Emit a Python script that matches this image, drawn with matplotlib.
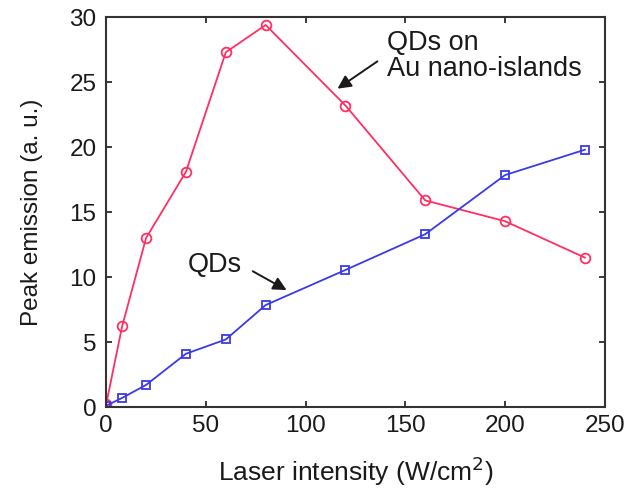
import matplotlib
matplotlib.use("Agg")
import matplotlib.pyplot as plt

plt.rcParams['font.family'] = ['Liberation Sans', 'DejaVu Sans']

intensity = [0, 8, 20, 40, 60, 80, 120, 160, 200, 240]
qds_au = [0.2, 6.2, 13.0, 18.1, 27.3, 29.4, 23.2, 15.9, 14.3, 11.5]
qds = [0.1, 0.7, 1.7, 4.1, 5.2, 7.85, 10.55, 13.3, 17.85, 19.8]

xticks = [0, 50, 100, 150, 200, 250]
yticks = [0, 5, 10, 15, 20, 25, 30]

fig = plt.figure(figsize=(6.28, 4.91), dpi=100)
ax = fig.add_axes([0.169, 0.171, 0.794, 0.794])

ax.plot(intensity, qds_au, color='#ff2f62', lw=1.3, marker='o', ms=7,
        mfc='none', mec='#ff2f62', mew=1.3)
ax.plot(intensity, qds, color='#3a3ae8', lw=1.3, marker='s', ms=6,
        mfc='none', mec='#3a3ae8', mew=1.3)

ax.set_xlim(0, 250)
ax.set_ylim(0, 30)
ax.set_xticks(xticks)
ax.set_yticks(yticks)
ax.tick_params(direction='in', top=True, right=True, length=4, width=1.2,
               labelsize=17.5, colors='#1a1a1a')
ax.tick_params(axis='y', pad=7)
ax.tick_params(axis='x', pad=6)
for s in ax.spines.values():
    s.set_linewidth(1.5)
    s.set_color('#333333')

ax.set_xlabel('Laser intensity (W/cm$^2$)', fontsize=19, color='#1a1a1a', labelpad=12)
ax.set_ylabel('Peak emission (a. u.)', fontsize=17.5, color='#1a1a1a', labelpad=19)

arrow = dict(arrowstyle='-|>', color='#1a1a1a', lw=1.4,
             mutation_scale=20, shrinkA=0, shrinkB=0)

ax.text(141, 27.0, 'QDs on\nAu nano-islands', fontsize=19.5, color='#1a1a1a',
        ha='left', va='center', linespacing=1.0)
ax.annotate('', xy=(116, 24.5), xytext=(136, 26.6), arrowprops=arrow)

ax.text(41, 10.9, 'QDs', fontsize=19.5, color='#1a1a1a', ha='left', va='center')
ax.annotate('', xy=(90.5, 9.0), xytext=(73.5, 10.45), arrowprops=arrow)

fig.savefig('out.png', dpi=100)
